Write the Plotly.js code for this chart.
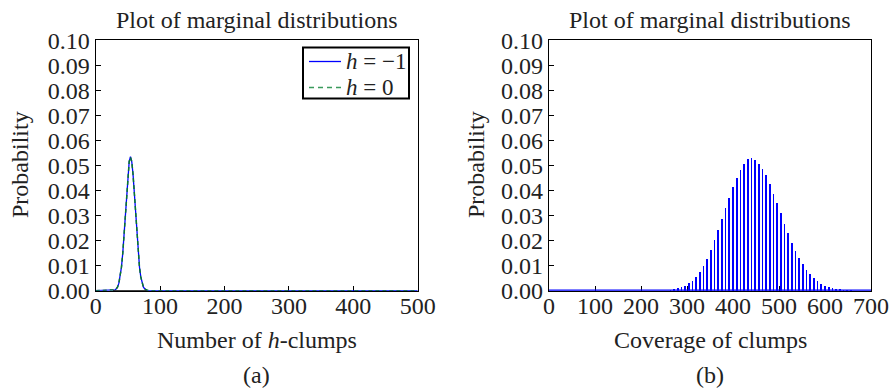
<!DOCTYPE html>
<html>
<head>
<meta charset="utf-8">
<script src="https://cdn.plot.ly/plotly-3.0.1.min.js"></script>
<style>html,body{margin:0;padding:0;background:#fff;}#chart{width:890px;height:388px;}</style>
</head>
<body>
<div id="chart"></div>
<script>
// ---- Panel (a): number of h-clumps ----
const clumpX = [0, 26, 28, 30, 32, 34, 36, 38, 40, 42, 44, 46, 48, 50, 52, 54, 56, 58, 60, 62, 64, 66, 68, 70, 72, 74, 76, 78, 80, 82, 84, 500];
const probHm1 = [0, 0.00005, 0.00013, 0.00032, 0.00072, 0.00153, 0.0030, 0.0055, 0.0094, 0.0149, 0.0220, 0.0303, 0.0388, 0.0464, 0.0516, 0.0535, 0.0516, 0.0464, 0.0388, 0.0303, 0.0220, 0.0149, 0.0094, 0.0055, 0.0030, 0.00153, 0.00072, 0.00032, 0.00013, 0.00005, 0, 0];
const probH0  = [0, 0.00005, 0.00013, 0.00032, 0.00072, 0.00153, 0.0030, 0.0055, 0.0094, 0.0149, 0.0220, 0.0303, 0.0388, 0.0464, 0.0516, 0.0533, 0.0516, 0.0464, 0.0388, 0.0303, 0.0220, 0.0149, 0.0094, 0.0055, 0.0030, 0.00153, 0.00072, 0.00032, 0.00013, 0.00005, 0, 0];
const blackSegX = [27, 79];
const blackSegY = [0, 0];

// ---- Panel (b): coverage of clumps ----
const coverX = [264,272,280,288,296,304,312,320,328,336,344,352,360,368,376,384,392,400,408,416,424,432,440,448,456,464,472,480,488,496,504,512,520,528,536,544,552,560,568,576,584,592,600,608,616,624,632,640,648,656];
const coverP = [0.0004,0.0007,0.0011,0.0015,0.0020,0.0030,0.0040,0.0056,0.0075,0.0099,0.0128,0.0162,0.0202,0.0242,0.0285,0.0329,0.0372,0.0415,0.0452,0.0481,0.0505,0.0524,0.0528,0.0521,0.0508,0.0488,0.0462,0.0428,0.0388,0.0351,0.0309,0.0266,0.0229,0.0191,0.0158,0.0129,0.0105,0.0083,0.0065,0.0049,0.0037,0.0028,0.0020,0.0015,0.0011,0.0007,0.0005,0.0003,0.0002,0.0001];
const coverBaseX = [0, 700];
const coverBaseY = [0, 0];

const titleText = 'Plot of marginal distributions';
const legendNames = ['<i>h</i> = \u22121', '<i>h</i> = 0'];

const FONT = 'Liberation Serif';
const FS = 24;
const TXT = '#222';
const BLUE = '#0000ff';
const GREEN = '#0a7a2a';

const traces = [
  {x: clumpX, y: probHm1, type: 'scatter', mode: 'lines', name: legendNames[0],
   line: {color: BLUE, width: 1.3}, cliponaxis: false, xaxis: 'x', yaxis: 'y'},
  {x: clumpX, y: probH0, type: 'scatter', mode: 'lines', name: legendNames[1],
   line: {color: GREEN, width: 1.5, dash: '4px,3px'}, cliponaxis: false, xaxis: 'x', yaxis: 'y'},
  {x: blackSegX, y: blackSegY, type: 'scatter', mode: 'lines',
   line: {color: '#000', width: 1.6}, cliponaxis: false, xaxis: 'x', yaxis: 'y'},
  {x: coverBaseX, y: coverBaseY, type: 'scatter', mode: 'lines',
   line: {color: BLUE, width: 2.4}, cliponaxis: false, xaxis: 'x2', yaxis: 'y2'},
  {x: coverX, y: coverP, type: 'bar', width: 3.6,
   marker: {color: BLUE, line: {width: 0}}, xaxis: 'x2', yaxis: 'y2'}
];

const axX = {
  showline: true, mirror: true, linecolor: '#000', linewidth: 1.2,
  ticks: 'inside', ticklen: 5, tickwidth: 1, tickcolor: '#000',
  showgrid: false, zeroline: false, dtick: 100, tick0: 0,
  tickfont: {family: FONT, size: FS, color: TXT}, layer: 'below traces',
  ticklabelstandoff: -7
};
const axY = {
  showline: true, mirror: true, linecolor: '#000', linewidth: 1.2,
  ticks: 'inside', ticklen: 5, tickwidth: 1, tickcolor: '#000',
  showgrid: false, zeroline: false, range: [0, 0.1], dtick: 0.01, tick0: 0,
  tickformat: '.2f', tickfont: {family: FONT, size: FS, color: TXT}, layer: 'below traces'
};

const yDom = [0.2508, 0.8961];
const px = v => v / 890;
const py = v => (388 - v) / 388;
const ann = (text, x, y, extra) => Object.assign({
  text: text, x: x, y: y, xref: 'paper', yref: 'paper', showarrow: false,
  xanchor: 'center', yanchor: 'middle', font: {family: FONT, size: FS, color: TXT}
}, extra || {});

const layout = {
  width: 890, height: 388,
  margin: {l: 0, r: 0, t: 0, b: 0},
  paper_bgcolor: '#fff', plot_bgcolor: '#fff',
  showlegend: false,
  xaxis: Object.assign({}, axX, {domain: [px(95.7), px(417.7)], range: [0, 500], anchor: 'y'}),
  yaxis: Object.assign({}, axY, {domain: yDom, anchor: 'x'}),
  xaxis2: Object.assign({}, axX, {domain: [px(549), px(871)], range: [0, 700], anchor: 'y2'}),
  yaxis2: Object.assign({}, axY, {domain: yDom, anchor: 'x2'}),
  bargap: 0,
  shapes: [
    // legend box and samples (panel a)
    {type: 'rect', xref: 'paper', yref: 'paper', x0: px(303), x1: px(409), y0: py(47.5), y1: py(98.5),
     line: {color: '#000', width: 2}, fillcolor: '#fff', layer: 'above'},
    {type: 'line', xref: 'paper', yref: 'paper', x0: px(309), x1: px(341), y0: py(61.5), y1: py(61.5),
     line: {color: BLUE, width: 1.3}, layer: 'above'},
    {type: 'line', xref: 'paper', yref: 'paper', x0: px(309), x1: px(341), y0: py(87.5), y1: py(87.5),
     line: {color: '#3a9a5c', width: 1.5, dash: '5px,4px'}, layer: 'above'}
  ],
  annotations: [
    ann(titleText, px(256.7), py(20)),
    ann(titleText, px(710), py(20)),
    ann('Number of <i>h</i>-clumps', px(256.7), py(340)),
    ann('Coverage of clumps', px(710), py(340)),
    ann('(a)', px(256.7), py(375)),
    ann('(b)', px(710), py(375)),
    ann('Probability', px(20), py(165), {textangle: -90}),
    ann('Probability', px(476), py(165), {textangle: -90}),
    ann(legendNames[0], px(344), py(61.5), {xanchor: 'left', font: {family: FONT, size: 23, color: TXT}}),
    ann(legendNames[1], px(344), py(87.5), {xanchor: 'left', font: {family: FONT, size: 23, color: TXT}})
  ]
};

Plotly.newPlot('chart', traces, layout, {displayModeBar: false, staticPlot: true});
</script>
</body>
</html>
